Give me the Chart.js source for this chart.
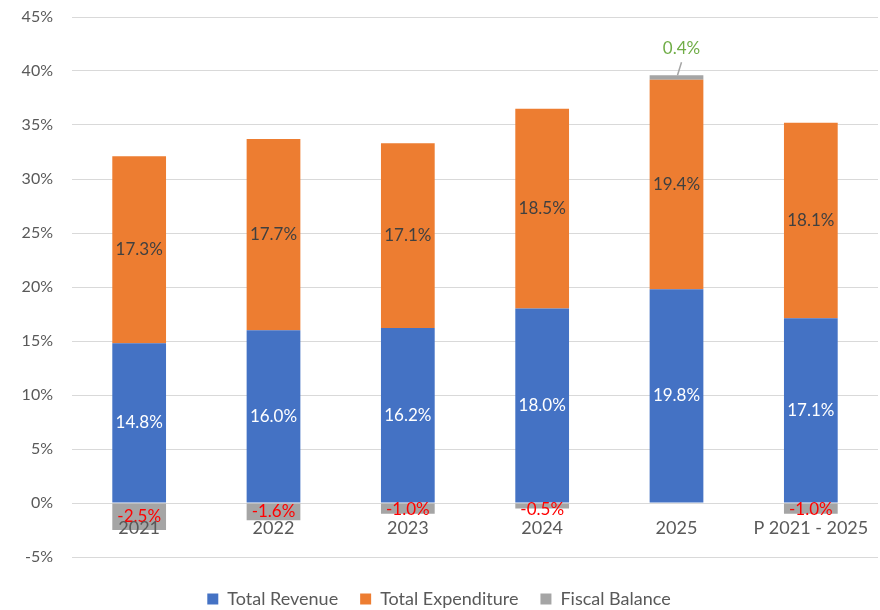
<!DOCTYPE html>
<html>
<head>
<meta charset="utf-8">
<script src="https://cdn.jsdelivr.net/npm/chart.js@4"></script>
<style>
  body { margin: 0; background: #fff; }
  #wrap { width: 880px; height: 610px; }
</style>
</head>
<body>
<div id="wrap"><canvas id="fiscalChart" width="880" height="610"></canvas></div>
<script>
const years = ['2021', '2022', '2023', '2024', '2025', 'P 2021 - 2025'];
const revenue = [14.8, 16.0, 16.2, 18.0, 19.8, 17.1];
const expenditure = [17.3, 17.7, 17.1, 18.5, 19.4, 18.1];
const balance = [-2.5, -1.6, -1.0, -0.5, 0.4, -1.0];
const yTicks = [-5, 0, 5, 10, 15, 20, 25, 30, 35, 40, 45];

const FONT = 'Lato, "Open Sans", sans-serif';

// value labels inside the bars, category names under the zero line
const labelPlugin = {
  id: 'barLabels',
  afterDatasetsDraw(chart) {
    const ctx = chart.ctx;
    const yScale = chart.scales.y;
    const zeroY = yScale.getPixelForValue(0);
    ctx.save();
    ctx.textAlign = 'center';
    ctx.textBaseline = 'middle';
    ctx.font = '17px ' + FONT;

    chart.data.datasets.forEach((ds, di) => {
      const meta = chart.getDatasetMeta(di);
      meta.data.forEach((bar, i) => {
        const v = ds.data[i];
        const txt = v.toFixed(1) + '%';
        const mid = (bar.y + bar.base) / 2;
        if (di === 0) {
          ctx.fillStyle = '#ffffff';
          ctx.fillText(txt, bar.x, mid);
        } else if (di === 1) {
          ctx.fillStyle = '#404040';
          ctx.fillText(txt, bar.x, mid);
        } else if (v < 0) {
          ctx.fillStyle = '#ff0000';
          ctx.fillText(txt, bar.x, Math.max(mid, zeroY + 7));
        } else {
          // positive balance sits above the stack with a small leader line
          ctx.strokeStyle = '#a5a5a5';
          ctx.lineWidth = 1.5;
          ctx.beginPath();
          ctx.moveTo(bar.x + 1, bar.y);
          ctx.lineTo(bar.x + 5, bar.y - 13);
          ctx.stroke();
          ctx.fillStyle = '#70ad47';
          ctx.fillText(txt, bar.x + 5, bar.y - 27);
        }
      });
    });

    ctx.font = '18px ' + FONT;
    ctx.fillStyle = '#595959';
    const meta0 = chart.getDatasetMeta(0);
    meta0.data.forEach((bar, i) => {
      ctx.fillText(years[i], bar.x, zeroY + 25);
    });
    ctx.restore();
  }
};

new Chart(document.getElementById('fiscalChart'), {
  type: 'bar',
  data: {
    labels: years,
    datasets: [
      { label: 'Total Revenue', data: revenue, backgroundColor: '#4472c4' },
      { label: 'Total Expenditure', data: expenditure, backgroundColor: '#ed7d31' },
      { label: 'Fiscal Balance', data: balance, backgroundColor: '#a5a5a5' }
    ]
  },
  options: {
    responsive: false,
    animation: false,
    layout: { padding: { left: 0, right: 2, top: 17, bottom: -8 } },
    datasets: {
      bar: { categoryPercentage: 1, barPercentage: 0.4 }
    },
    scales: {
      x: {
        stacked: true,
        grid: { display: false, drawTicks: false },
        border: { display: false },
        ticks: { display: false },
        // leaves a gap between the plot and the legend
        afterFit(axis) { axis.height = 11; }
      },
      y: {
        stacked: true,
        min: -5,
        max: 45,
        afterBuildTicks(axis) {
          axis.ticks = yTicks.map(v => ({ value: v }));
        },
        afterFit(axis) { axis.width = 72; },
        border: { display: false },
        grid: {
          color: '#d9d9d9',
          lineWidth: 1,
          tickLength: 19,
          tickColor: 'rgba(0,0,0,0)'
        },
        ticks: {
          padding: 0,
          color: '#595959',
          font: { family: FONT, size: 16 },
          callback: v => v + '%'
        }
      }
    },
    plugins: {
      legend: {
        position: 'bottom',
        labels: {
          boxWidth: 11,
          boxHeight: 11,
          padding: 22,
          color: '#595959',
          font: { family: FONT, size: 18 }
        }
      },
      tooltip: { enabled: false }
    }
  },
  plugins: [labelPlugin]
});
</script>
</body>
</html>
